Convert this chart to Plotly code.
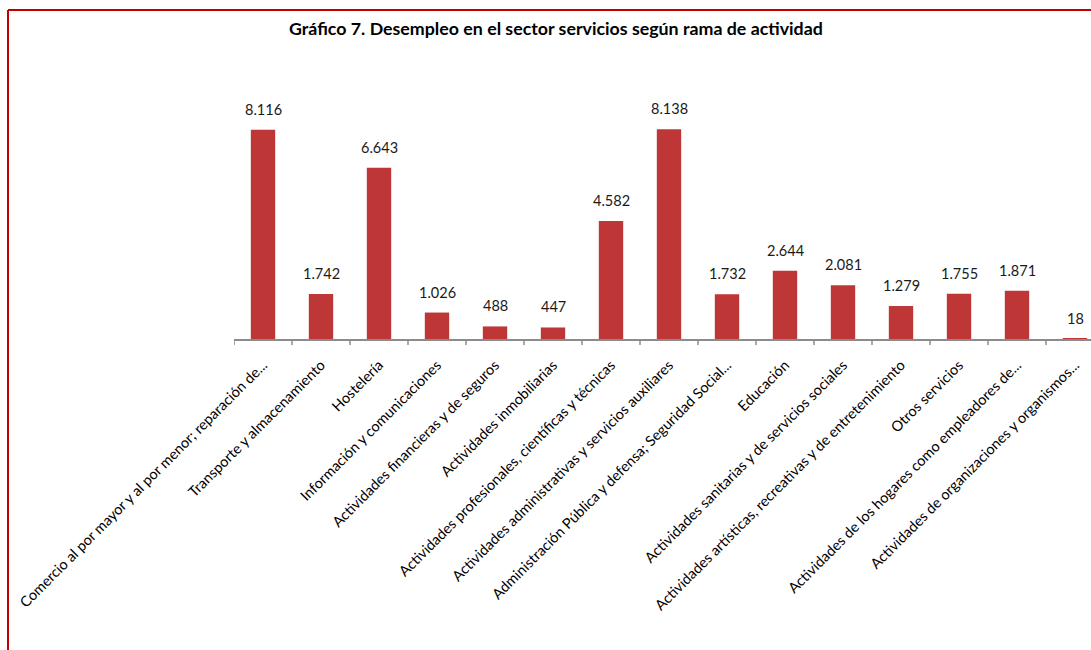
import plotly.graph_objects as go

categories = [
    "Comercio al por mayor y al por menor; reparación de...",
    "Transporte y almacenamiento",
    "Hostelería",
    "Información y comunicaciones",
    "Actividades financieras y de seguros",
    "Actividades inmobiliarias",
    "Actividades profesionales, científicas y técnicas",
    "Actividades administrativas y servicios auxiliares",
    "Administración Pública y defensa; Seguridad Social...",
    "Educación",
    "Actividades sanitarias y de servicios sociales",
    "Actividades artísticas, recreativas y de entretenimiento",
    "Otros servicios",
    "Actividades de los hogares como empleadores de...",
    "Actividades de organizaciones y organismos...",
]
values = [8116, 1742, 6643, 1026, 488, 447, 4582, 8138, 1732, 2644, 2081, 1279, 1755, 1871, 18]
title_text = "Gráfico 7. Desempleo en el sector servicios según rama de actividad"

FONT = "Lato"
W, H = 1091, 650
ML, MR, MT, MB = 234, 0, 107, 311
plot_w = W - ML - MR
plot_h = H - MT - MB
cat_px = 58.0

fig = go.Figure()
fig.add_trace(go.Bar(
    x=list(range(len(categories))),
    y=values,
    width=0.42,
    marker=dict(color="#be3636", line=dict(width=0)),
    hoverinfo="skip",
))

for i, v in enumerate(values):
    fig.add_annotation(
        x=i, y=v, xref="x", yref="y",
        text=f"{v:,}".replace(",", "."),
        showarrow=False, yanchor="bottom", yshift=10,
        font=dict(family=FONT, size=14.5, color="#1a1a1a"),
    )

# title
fig.add_annotation(
    x=(556 - ML) / plot_w, y=(H - MB - 28) / plot_h, xref="paper", yref="paper",
    text=f"<b>{title_text}</b>", showarrow=False,
    xanchor="center", yanchor="middle",
    font=dict(family=FONT, size=17.8, color="#000000"),
)

# red chart border (left and top)
bx = (8 - ML) / plot_w
by = (H - MB - 10) / plot_h
by0 = (H - MB - H - 5) / plot_h
bx1 = (W + 5 - ML) / plot_w
fig.add_shape(type="line", xref="paper", yref="paper", x0=bx, x1=bx, y0=by0, y1=by,
              line=dict(color="#c00000", width=2))
fig.add_shape(type="line", xref="paper", yref="paper", x0=bx, x1=bx1, y0=by, y1=by,
              line=dict(color="#c00000", width=2))

fig.update_layout(
    width=W, height=H,
    margin=dict(l=ML, r=MR, t=MT, b=MB, autoexpand=False),
    paper_bgcolor="white", plot_bgcolor="white",
    showlegend=False,
    xaxis=dict(
        tickmode="array",
        tickvals=list(range(len(categories))),
        ticktext=categories,
        range=[-0.5, -0.5 + plot_w / cat_px],
        tickangle=-45,
        tickfont=dict(family=FONT, size=14.5, color="#000000"),
        ticklabelstandoff=10,
        showline=True, linecolor="#8c8c8c", linewidth=2,
        showgrid=False, zeroline=False,
        ticks="",
    ),
    yaxis=dict(
        range=[0, 9000],
        visible=False,
        showgrid=False, zeroline=False,
    ),
)

# category boundary tick marks
for k in range(len(categories) + 1):
    fig.add_shape(type="line", xref="x", yref="paper",
                  x0=k - 0.5, x1=k - 0.5, y0=0, y1=-6 / plot_h,
                  line=dict(color="#8c8c8c", width=1.5))

fig.write_html("out.html")
